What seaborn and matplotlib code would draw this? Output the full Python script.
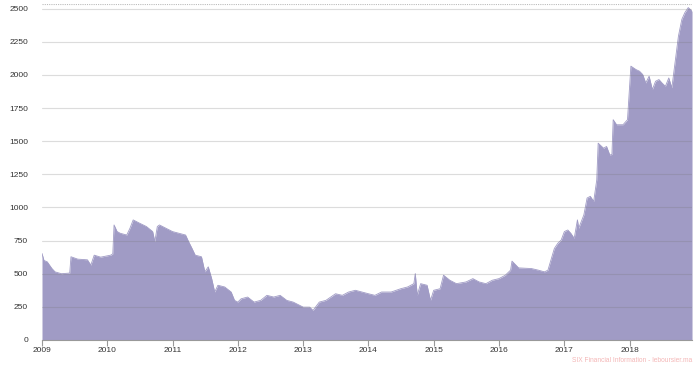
import pandas as pd
import matplotlib
matplotlib.use("Agg")
import matplotlib.pyplot as plt
import matplotlib.dates as mdates
import seaborn as sns

sns.set_theme(style="white")
plt.rcParams['font.family'] = ['Liberation Sans', 'DejaVu Sans']

# Cours (lecture approximative du graphique)
dates = [
    "2009-01-01", "2009-01-12", "2009-01-30", "2009-02-25", "2009-03-15", "2009-04-20",
    "2009-06-05", "2009-06-12", "2009-07-20", "2009-09-12", "2009-10-01", "2009-10-20",
    "2009-11-25", "2010-01-20", "2010-02-01", "2010-02-08", "2010-02-25", "2010-03-15",
    "2010-04-20", "2010-05-08", "2010-05-26", "2010-07-01", "2010-08-08", "2010-09-12",
    "2010-09-24", "2010-10-08", "2010-10-20", "2010-11-25", "2011-01-01", "2011-02-06",
    "2011-03-15", "2011-04-01", "2011-04-20", "2011-05-08", "2011-06-12", "2011-07-01",
    "2011-07-20", "2011-08-08", "2011-08-25", "2011-09-12", "2011-10-20", "2011-11-25",
    "2011-12-14", "2012-01-01", "2012-01-20", "2012-02-25", "2012-04-01", "2012-05-08",
    "2012-06-12", "2012-07-20", "2012-08-25", "2012-10-01", "2012-11-06", "2013-01-01",
    "2013-02-06", "2013-02-25", "2013-04-01", "2013-05-08", "2013-07-01", "2013-08-08",
    "2013-09-12", "2013-10-20", "2013-11-25", "2014-01-01", "2014-02-06", "2014-03-15",
    "2014-05-08", "2014-07-01", "2014-08-08", "2014-09-12", "2014-09-20", "2014-10-01",
    "2014-10-20", "2014-11-25", "2014-12-14", "2015-01-01", "2015-02-06", "2015-02-25",
    "2015-04-01", "2015-05-08", "2015-07-01", "2015-08-08", "2015-09-12", "2015-10-20",
    "2015-11-25", "2016-01-01", "2016-02-06", "2016-03-06", "2016-03-14", "2016-04-20",
    "2016-07-01", "2016-08-08", "2016-09-12", "2016-10-01", "2016-10-20", "2016-11-06",
    "2016-11-25", "2016-12-14", "2017-01-01", "2017-01-20", "2017-02-06", "2017-02-25",
    "2017-03-15", "2017-03-22", "2017-04-20", "2017-05-08", "2017-05-26", "2017-06-14",
    "2017-07-01", "2017-07-09", "2017-08-08", "2017-08-25", "2017-09-12", "2017-09-24",
    "2017-10-01", "2017-10-20", "2017-11-25", "2017-12-20", "2018-01-08", "2018-02-06",
    "2018-02-25", "2018-03-15", "2018-04-01", "2018-04-20", "2018-05-08", "2018-05-26",
    "2018-06-14", "2018-07-01", "2018-07-20", "2018-08-08", "2018-08-25", "2018-09-12",
    "2018-10-01", "2018-10-20", "2018-11-06", "2018-11-25", "2018-12-16",
]
cours = [
    653, 600, 590, 540, 514, 500,
    505, 628, 610, 605, 565, 640,
    625, 640, 650, 868, 818, 805,
    792, 843, 906, 881, 856, 818,
    742, 856, 868, 843, 818, 805,
    792, 742, 691, 640, 628, 514,
    552, 463, 362, 413, 400, 362,
    299, 286, 311, 324, 286, 299,
    337, 324, 337, 299, 286, 248,
    248, 223, 286, 299, 349, 337,
    362, 375, 362, 349, 337, 362,
    362, 387, 400, 425, 501, 337,
    425, 413, 299, 375, 387, 489,
    451, 425, 438, 463, 438, 425,
    451, 463, 489, 527, 595, 544,
    539, 527, 514, 527, 615, 691,
    729, 754, 818, 830, 805, 767,
    906, 843, 944, 1071, 1084, 1046,
    1207, 1485, 1447, 1460, 1396, 1400,
    1662, 1624, 1624, 1662, 2066, 2040,
    2028, 2003, 1939, 1990, 1889, 1952,
    1965, 1939, 1914, 1977, 1902, 2091,
    2293, 2419, 2470, 2508, 2480,
]
annees = [str(a) for a in range(2009, 2019)]
graduations_y = [0, 250, 500, 750, 1000, 1250, 1500, 1750, 2000, 2250, 2500]

df = pd.DataFrame({"date": pd.to_datetime(dates), "cours": cours})

fig = plt.figure(figsize=(7, 3.69), dpi=100)
ax = fig.add_axes([0.06, 0.0786, 0.9286, 0.9106])

couleur = "#a09bc5"
sns.lineplot(data=df, x="date", y="cours", color=couleur, linewidth=0.6, ax=ax)
ax.fill_between(df["date"], df["cours"], color=couleur, linewidth=0)

ax.set_xlim(pd.Timestamp("2009-01-01"), df["date"].iloc[-1])
ax.set_ylim(0, 2535)

# grille horizontale par-dessus la zone
ax.set_yticks(graduations_y)
ax.set_yticklabels([str(v) for v in graduations_y])
for v in graduations_y[1:]:
    ax.axhline(v, color="#777777", alpha=0.25, linewidth=0.8, zorder=5)
ax.axhline(2535, color="#bbbbbb", linestyle=(0, (1, 1)), linewidth=0.8, zorder=5)

ax.set_xticks(pd.to_datetime([a + "-01-01" for a in annees]))
ax.xaxis.set_major_formatter(mdates.DateFormatter("%Y"))

ax.tick_params(axis="y", length=0, pad=10, labelsize=6, labelcolor="#333333")
ax.tick_params(axis="x", length=4, width=0.8, color="#999999", pad=1,
               labelsize=6, labelcolor="#333333", bottom=True, direction="out")

for s in ["top", "right", "left"]:
    ax.spines[s].set_visible(False)
ax.spines["bottom"].set_color("#999999")
ax.spines["bottom"].set_linewidth(0.8)

ax.set_xlabel("")
ax.set_ylabel("")

fig.text(0.9886, 0.022, "SIX Financial Information - leboursier.ma",
         ha="right", va="center", fontsize=4.8, color="#f4b6b6")

fig.savefig("out.png", dpi=100)
